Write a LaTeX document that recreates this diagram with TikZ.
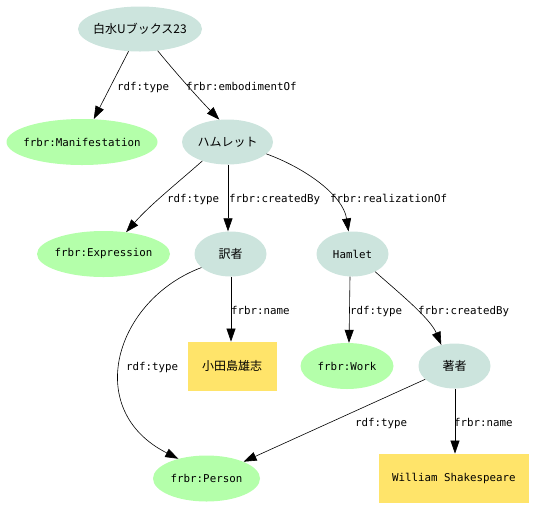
\documentclass[tikz,border=0pt]{standalone}
\usepackage{fontspec}
\setmonofont{DejaVu Sans Mono}
\newfontfamily\jpfont{Noto Sans CJK JP}
\usetikzlibrary{shapes.geometric,arrows.meta}
\definecolor{resnode}{RGB}{204,228,221}
\definecolor{classnode}{RGB}{180,255,170}
\definecolor{litnode}{RGB}{255,228,106}
\newcommand\nodetext[1]{\makebox[0pt]{#1}}
\begin{document}
\begin{tikzpicture}[x=1pt,y=-1pt,
  monofnt/.style={font=\ttfamily\fontsize{10.8}{12}\selectfont},
  jpfnt/.style={font=\jpfont\fontsize{12}{14}\selectfont},
  resource/.style={ellipse, fill=resnode, inner sep=0pt, minimum height=45pt, jpfnt},
  classn/.style={ellipse, fill=classnode, inner sep=0pt, minimum height=46pt, monofnt},
  literal/.style={rectangle, fill=litnode, inner sep=0pt, minimum height=49pt},
  edgelbl/.style={anchor=base west, inner sep=0pt, monofnt},
  arc/.style={draw=black, line width=0.6pt, -{Triangle[length=13pt,width=9pt]}}
]
\useasboundingbox (0,0) rectangle (543,507);
% nodes
\node[resource, minimum width=124pt] (hk) at (140,29) {\nodetext{白水Uブックス23}};
\node[classn, minimum width=151pt] (man) at (82,142) {\nodetext{frbr:Manifestation}};
\node[resource, minimum width=91pt] (hm) at (227.5,142) {\nodetext{ハムレット}};
\node[classn, minimum width=133pt] (expr) at (103.5,254) {\nodetext{frbr:Expression}};
\node[resource, minimum width=72pt] (tr) at (230.5,254) {\nodetext{訳者}};
\node[resource, minimum width=72pt, monofnt] (hl) at (352.5,254) {\nodetext{Hamlet}};
\node[literal, minimum width=89pt, jpfnt] (od) at (232.2,366.3) {\nodetext{小田島雄志}};
\node[classn, minimum width=93pt] (wk) at (347,366) {\nodetext{frbr:Work}};
\node[resource, minimum width=72pt] (au) at (454.5,366) {\nodetext{著者}};
\node[classn, minimum width=107pt] (pe) at (206.5,478.5) {\nodetext{frbr:Person}};
\node[literal, minimum width=150pt, monofnt] (ws) at (453.8,478.3) {\nodetext{William Shakespeare}};
% edges
\draw[arc] (hk) -- (man);
\draw[arc] (hk) .. controls (175,72) and (200,100) .. (hm.110);
\draw[arc] (hm.-143) .. controls (175,185) and (150,205) .. (expr.44);
\draw[arc] (hm.south -| 228,0) -- (tr.north -| 228,0);
\draw[arc] (hm.-17) .. controls (305,168) and (343,195) .. (hl.100);
\draw[arc] (tr.south -| 231,0) -- (od.north -| 231,0);
\draw[arc] (tr.-155) .. controls (115,300) and (82,410) .. (pe.145);
\draw[arc] (hl.south -| 350,0) -- (wk.north -| 349,0);
\draw[arc] (hl.-38) .. controls (398,292) and (430,318) .. (au.122);
\draw[arc] (au) -- (pe);
\draw[arc] (au.south -| 455,0) -- (ws.north -| 455,0);
% edge labels
\node[edgelbl] (l1) at (117,90) {rdf:type};
\node[edgelbl] (l2) at (186,90) {frbr:embodimentOf};
\node[edgelbl] (l3) at (167,202) {rdf:type};
\node[edgelbl] (l4) at (229,202) {frbr:createdBy};
\node[edgelbl] (l5) at (330,202) {frbr:realizationOf};
\node[edgelbl] (l6) at (231,314) {frbr:name};
\node[edgelbl] (l7) at (350,314) {rdf:type};
\node[edgelbl] (l8) at (418,314) {frbr:createdBy};
\node[edgelbl] (l9) at (126,370) {rdf:type};
\node[edgelbl] (l10) at (355,426) {rdf:type};
\node[edgelbl] (l11) at (454,426) {frbr:name};
\end{tikzpicture}
\end{document}
